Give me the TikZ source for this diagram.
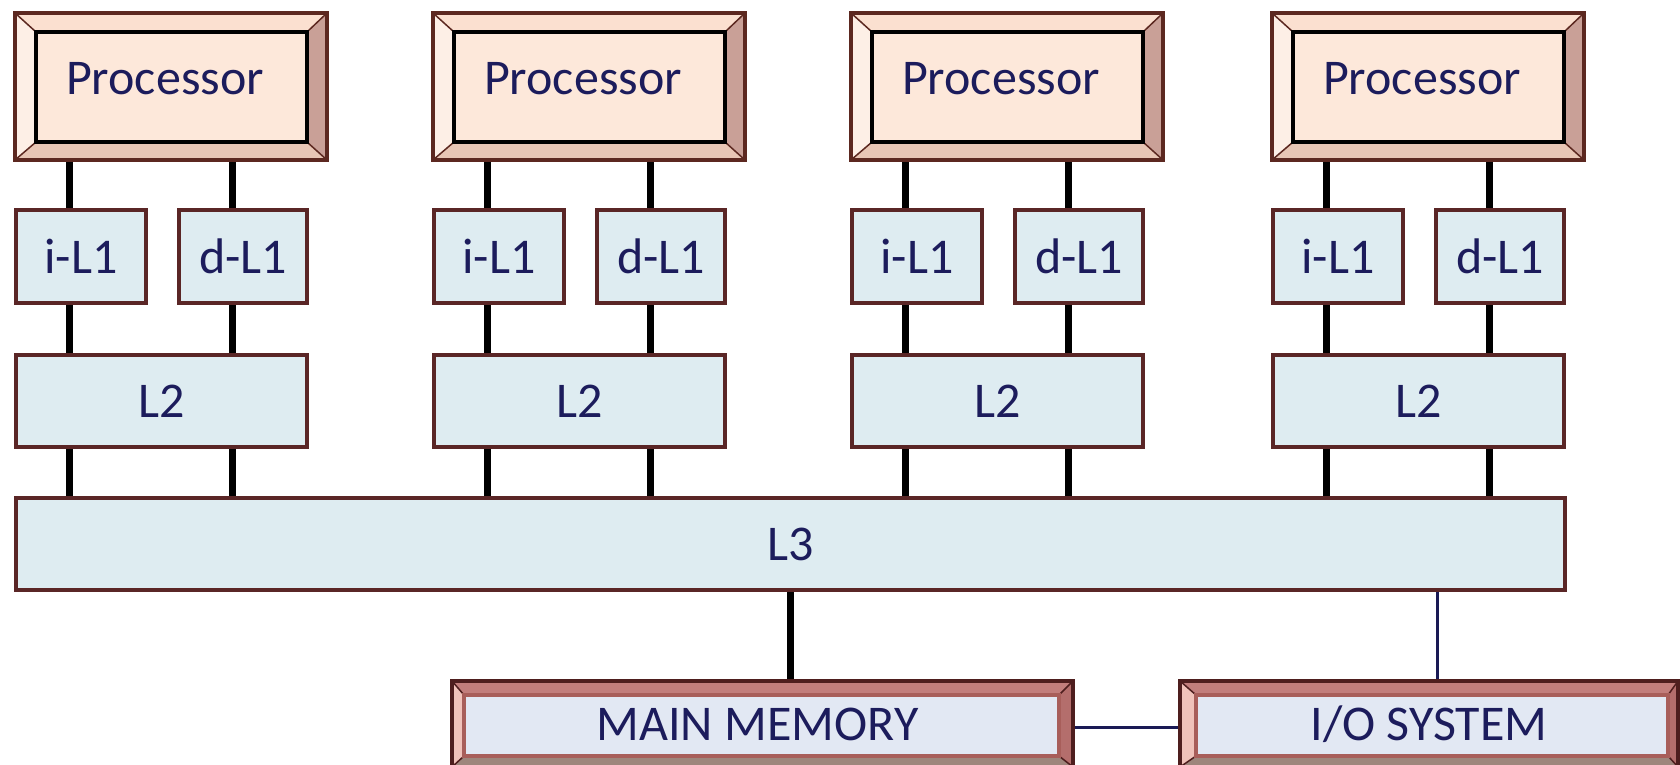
\documentclass[tikz,border=0pt]{standalone}
\usepackage{fontspec}
\setmainfont{Carlito}
\usetikzlibrary{calc}
\pgfdeclarelayer{bg}
\pgfsetlayers{bg,main}

% palette
\definecolor{ink}{HTML}{1C1C5C}
\definecolor{edge}{HTML}{5A2626}
\definecolor{cachefill}{HTML}{DEECF1}
\definecolor{procfill}{HTML}{FDE8DA}
\definecolor{memfill}{HTML}{E2E8F3}
\definecolor{navyline}{HTML}{1A1A55}
% processor bevel
\definecolor{ptop}{HTML}{FBE0D0}
\definecolor{pleft}{HTML}{FDEFE6}
\definecolor{pright}{HTML}{C9A097}
\definecolor{pbot}{HTML}{E8C6B5}
\definecolor{pin}{HTML}{844230}
\definecolor{pout}{HTML}{5C2820}
% memory / io bevel
\definecolor{mtop}{HTML}{C27E7C}
\definecolor{mleft}{HTML}{F0C2BA}
\definecolor{mright}{HTML}{B46E6C}
\definecolor{mbot}{HTML}{9E867C}
\definecolor{min}{HTML}{A85E5A}
\definecolor{mout}{HTML}{4E1E1E}

\newcommand\lbl{\fontsize{50}{60}\selectfont}

% box from corner coordinates (x1,y1)-(x2,y2)
\newcommand\boxat[7]{%
  \node[#1, minimum width={(#5)-(#3)}, minimum height={(#6)-(#4)}]
    (#2) at ({((#3)+(#5))/2},{((#4)+(#6))/2}) {#7};}

% bevelled rim: node, insets left/top/right/bottom, colour prefix
\newcommand\bevel[6]{%
  \coordinate (#1-a) at ($(#1.north west)+(#2,#3)$);
  \coordinate (#1-b) at ($(#1.north east)+(-#4,#3)$);
  \coordinate (#1-c) at ($(#1.south east)+(-#4,-#5)$);
  \coordinate (#1-d) at ($(#1.south west)+(#2,-#5)$);
  \fill[#6top] (#1.north west) -- (#1.north east) -- (#1-b) -- (#1-a) -- cycle;
  \fill[#6left] (#1.north west) -- (#1-a) -- (#1-d) -- (#1.south west) -- cycle;
  \fill[#6right] (#1.north east) -- (#1.south east) -- (#1-c) -- (#1-b) -- cycle;
  \fill[#6bot] (#1.south west) -- (#1-d) -- (#1-c) -- (#1.south east) -- cycle;
  \draw[#6out, line width=1.5pt] (#1.north west) -- (#1-a) (#1.north east) -- (#1-b)
    (#1.south east) -- (#1-c) (#1.south west) -- (#1-d);
  \draw[#6in, line width=3.5pt] (#1-a) rectangle (#1-c);
  \draw[#6out, line width=4pt] (#1.north west) rectangle (#1.south east);}

\tikzset{
  x=1pt, y=-1pt,
  box/.style={rectangle, inner sep=0pt, outer sep=0pt, font=\lbl, text=ink},
  cache/.style={box, fill=cachefill, draw=edge, line width=4pt},
  proc/.style={box, fill=procfill, text depth=17pt},
  mem/.style={box, fill=memfill},
  link/.style={line width=7pt, black},
  thinlink/.style={line width=3pt, navyline},
}

\begin{document}
\begin{tikzpicture}
\useasboundingbox (0,0) rectangle (1680,765);
\begin{pgfonlayer}{bg}
  \fill[white] (0,0) rectangle (1680,765);
\end{pgfonlayer}

% four cores with private caches
\foreach \i/\x in {1/16,2/434,3/852,4/1273}{
  \boxat{proc}{p\i}{\x-1}{13}{\x+311}{160}{Processor\hspace*{12pt}}
  \bevel{p\i}{21}{19}{20}{18}{p}
  \boxat{cache}{il\i}{\x}{210}{\x+130}{303}{i-L1}
  \boxat{cache}{dl\i}{\x+163}{210}{\x+291}{303}{d-L1}
  \boxat{cache}{ltwo\i}{\x}{355}{\x+291}{447}{L2}
  \coordinate (ta\i) at (\x+53,0);
  \coordinate (tb\i) at (\x+216,0);
}

% shared last-level cache
\boxat{cache}{lthree}{16}{498}{1565}{590}{L3}

% memory and I/O
\boxat{mem}{mm}{452}{681}{1073}{767}{MAIN MEMORY\hspace*{10pt}}
\bevel{mm}{12}{14}{14}{11}{m}
\boxat{mem}{io}{1180}{681}{1678}{767}{I/O SYSTEM}
\bevel{io}{16}{14}{10}{11}{m}

\coordinate (mmtap) at (790,0);
\coordinate (iotap) at (1437,0);

\begin{pgfonlayer}{bg}
  \foreach \i in {1,2,3,4}{
    \draw[link] (p\i.south -| ta\i) -- (il\i.north -| ta\i);
    \draw[link] (il\i.south -| ta\i) -- (ltwo\i.north -| ta\i);
    \draw[link] (ltwo\i.south -| ta\i) -- (lthree.north -| ta\i);
    \draw[link] (p\i.south -| tb\i) -- (dl\i.north -| tb\i);
    \draw[link] (dl\i.south -| tb\i) -- (ltwo\i.north -| tb\i);
    \draw[link] (ltwo\i.south -| tb\i) -- (lthree.north -| tb\i);
  }
  \draw[link] (lthree.south -| mmtap) -- (mm.north -| mmtap);
  \draw[thinlink] (lthree.south -| iotap) -- (io.north -| iotap);
  \draw[thinlink] ($(mm.east)+(0,3)$) -- ($(io.west)+(0,3)$);
\end{pgfonlayer}
\end{tikzpicture}
\end{document}
